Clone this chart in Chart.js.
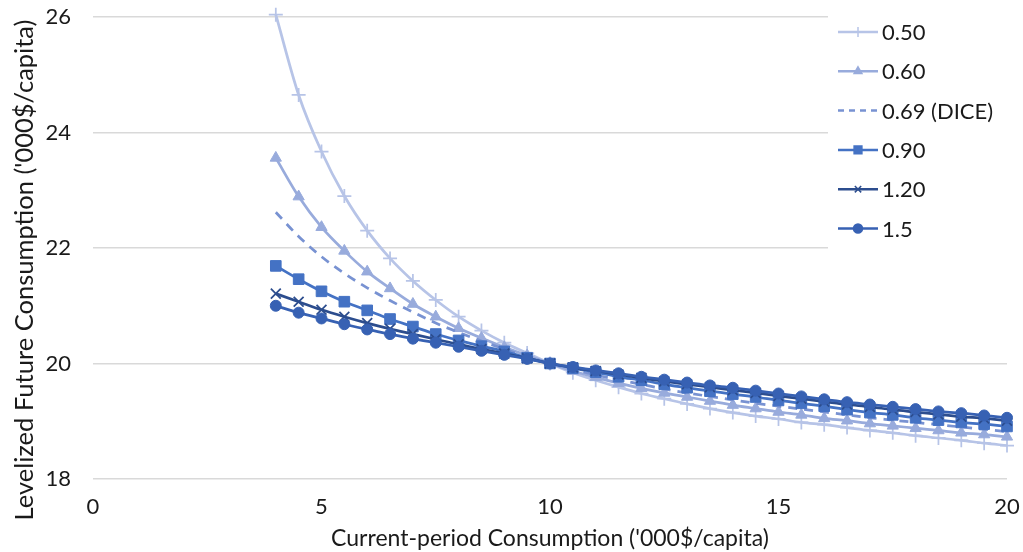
<!DOCTYPE html>
<html>
<head>
<meta charset="utf-8">
<script src="https://cdn.jsdelivr.net/npm/chart.js@4/dist/chart.umd.min.js"></script>
<style>
  html, body { margin: 0; padding: 0; background: #fff; }
  #wrap { width: 1023px; height: 552px; }
</style>
</head>
<body>
<div id="wrap"><canvas id="chart" width="1023" height="552"></canvas></div>
<script>
// current-period consumption ('000$/capita)
const currentCons = [4, 4.5, 5, 5.5, 6, 6.5, 7, 7.5, 8, 8.5, 9, 9.5, 10, 10.5, 11, 11.5, 12,
    12.5, 13, 13.5, 14, 14.5, 15, 15.5, 16, 16.5, 17, 17.5, 18, 18.5, 19, 19.5, 20];

// levelized future consumption, one array per elasticity
const eta050 = [26.04, 24.65, 23.67, 22.90, 22.30, 21.82, 21.43, 21.10, 20.81, 20.57, 20.36, 20.18, 20.00,
    19.84, 19.71, 19.59, 19.48, 19.39, 19.30, 19.22, 19.15, 19.09, 19.04, 18.98, 18.94, 18.89, 18.84,
    18.80, 18.75, 18.71, 18.67, 18.62, 18.58];
const eta060 = [23.56, 22.89, 22.36, 21.95, 21.59, 21.30, 21.03, 20.81, 20.61, 20.44, 20.28, 20.14, 20.00,
    19.87, 19.76, 19.66, 19.57, 19.49, 19.42, 19.35, 19.28, 19.22, 19.16, 19.11, 19.05, 19.01, 18.96,
    18.92, 18.88, 18.84, 18.80, 18.77, 18.73];
const eta069 = [22.62, 22.20, 21.85, 21.56, 21.31, 21.09, 20.89, 20.70, 20.54, 20.39, 20.25, 20.12, 20.00,
    19.90, 19.80, 19.72, 19.64, 19.56, 19.49, 19.43, 19.37, 19.31, 19.26, 19.21, 19.16, 19.11, 19.06,
    19.02, 18.98, 18.94, 18.90, 18.86, 18.82];
const eta090 = [21.69, 21.46, 21.25, 21.07, 20.92, 20.77, 20.64, 20.51, 20.40, 20.30, 20.21, 20.10, 20.00,
    19.92, 19.85, 19.77, 19.71, 19.64, 19.58, 19.52, 19.47, 19.42, 19.36, 19.31, 19.26, 19.20, 19.15,
    19.11, 19.06, 19.02, 18.98, 18.95, 18.91];
const eta120 = [21.21, 21.07, 20.93, 20.81, 20.70, 20.60, 20.51, 20.42, 20.33, 20.25, 20.17, 20.09, 20.00,
    19.93, 19.87, 19.81, 19.75, 19.69, 19.64, 19.59, 19.54, 19.49, 19.44, 19.39, 19.34, 19.29, 19.25,
    19.20, 19.16, 19.12, 19.08, 19.05, 19.01];
const eta150 = [21.00, 20.88, 20.78, 20.68, 20.59, 20.51, 20.43, 20.36, 20.29, 20.22, 20.15, 20.08, 20.00,
    19.94, 19.88, 19.83, 19.77, 19.72, 19.67, 19.62, 19.58, 19.53, 19.48, 19.43, 19.38, 19.33, 19.29,
    19.25, 19.21, 19.17, 19.14, 19.10, 19.06];

const seriesLabels = ['0.50', '0.60', '0.69 (DICE)', '0.90', '1.20', '1.5'];
const seriesData = [eta050, eta060, eta069, eta090, eta120, eta150];
const yTitle = "Levelized Future Consumption ('000$/capita)";

const FONT = 'Lato, "Open Sans", sans-serif';
const TEXT = '#1a1a1a';

// look of each series
const styles = [
    { color: '#b7c4e7', point: 'cross', radius: 7, dash: [] },
    { color: '#98abdc', point: 'triangle', radius: 6.5, dash: [] },
    { color: '#7892d2', point: false, radius: 0, dash: [9, 7] },
    { color: '#4472c4', point: 'rect', radius: 7.5, dash: [] },
    { color: '#2c4d8e', point: 'crossRot', radius: 7, dash: [] },
    { color: '#3761b3', point: 'circle', radius: 5.5, dash: [] }
];

function toPoints(ys) {
    return currentCons.map(function (x, i) { return { x: x, y: ys[i] }; });
}

const datasets = seriesData.map(function (ys, i) {
    const s = styles[i];
    return {
        label: seriesLabels[i],
        data: toPoints(ys),
        borderColor: s.color,
        backgroundColor: s.color,
        borderWidth: 2.75,
        borderDash: s.dash,
        pointStyle: s.point,
        pointRadius: s.radius,
        pointBorderWidth: s.point === 'cross' || s.point === 'crossRot' ? 1.75 : 1,
        pointBackgroundColor: s.color,
        pointBorderColor: s.color,
        cubicInterpolationMode: 'monotone',
        clip: false,
        order: seriesData.length - i   // later series on top, like the original
    };
});

// legend and y title drawn by hand (legend entries need line + marker)
const sideLegend = {
    id: 'sideLegend',
    afterDraw: function (chart) {
        const ctx = chart.ctx;
        ctx.save();
        ctx.fillStyle = '#fff';
        ctx.fillRect(828, 8, 185, 244);
        datasets.forEach(function (ds, i) {
            const s = styles[i];
            const y = 32 + i * 39.3;
            ctx.strokeStyle = s.color;
            ctx.lineWidth = 2.5;
            ctx.setLineDash(s.dash.length ? [6, 5] : []);
            ctx.beginPath();
            ctx.moveTo(838, y);
            ctx.lineTo(878, y);
            ctx.stroke();
            ctx.setLineDash([]);
            if (s.point) {
                ctx.fillStyle = s.color;
                ctx.strokeStyle = s.color;
                ctx.lineWidth = 1.5;
                Chart.helpers.drawPoint(ctx, {
                    pointStyle: s.point,
                    radius: s.point === 'cross' ? 5 : (s.point === 'rect' ? 5.5 : 4.5),
                    borderWidth: 1.5,
                    rotation: 0
                }, 858, y);
            }
            ctx.fillStyle = TEXT;
            ctx.font = '22px ' + FONT;
            ctx.textBaseline = 'middle';
            ctx.textAlign = 'left';
            ctx.fillText(ds.label, 882, y + 1);
        });

        ctx.translate(25, 270);
        ctx.rotate(-Math.PI / 2);
        ctx.fillStyle = TEXT;
        ctx.font = '25.5px ' + FONT;
        ctx.textAlign = 'center';
        ctx.textBaseline = 'middle';
        ctx.fillText(yTitle, 0, 0);
        ctx.restore();
    }
};

new Chart(document.getElementById('chart'), {
    type: 'line',
    data: { datasets: datasets },
    options: {
        responsive: false,
        animation: false,
        layout: { autoPadding: false, padding: { top: 17, right: 16, left: 0, bottom: 0 } },
        plugins: {
            legend: { display: false },
            tooltip: { enabled: false }
        },
        scales: {
            x: {
                type: 'linear',
                min: 0,
                max: 20,
                ticks: { stepSize: 5, color: TEXT, font: { family: FONT, size: 22 }, padding: 7 },
                grid: { display: false },
                border: { display: false },
                title: {
                    display: true,
                    text: "Current-period Consumption ('000$/capita)",
                    color: TEXT,
                    font: { family: FONT, size: 23 },
                    padding: { top: 0, bottom: 0 }
                },
                afterFit: function (scale) {
                    scale.height = 73;
                    scale.paddingLeft = 0;
                    scale.paddingRight = 0;
                }
            },
            y: {
                type: 'linear',
                min: 18,
                max: 26,
                ticks: { stepSize: 2, color: TEXT, font: { family: FONT, size: 22 }, padding: 22 },
                grid: { color: '#d9d9d9', lineWidth: 1.5, drawTicks: false },
                border: { display: false },
                afterFit: function (scale) {
                    scale.width = 93;
                    scale.paddingTop = 0;
                    scale.paddingBottom = 0;
                }
            }
        }
    },
    plugins: [sideLegend]
});
</script>
</body>
</html>
